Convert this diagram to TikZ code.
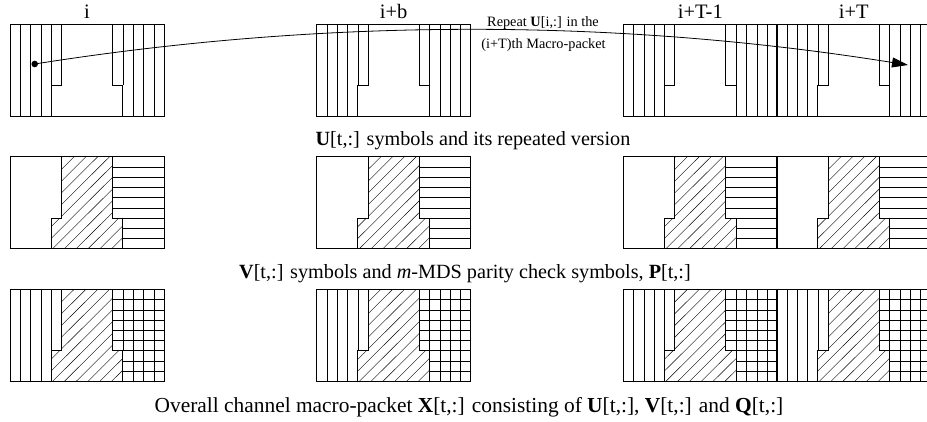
\documentclass[tikz,border=0pt]{standalone}
\usepackage{fontspec}
\setmainfont{Liberation Serif}
\usetikzlibrary{arrows.meta}
\tikzset{
  gridline/.style={line width=0.45pt},
  outline/.style={line width=0.7pt},
  bound/.style={line width=1pt},
  hatchline/.style={line width=0.4pt},
  labtxt/.style={font=\fontsize{20.5}{24}\selectfont, anchor=base, inner sep=0pt},
  captxt/.style={font=\fontsize{20.2}{24}\selectfont, anchor=base, inner sep=0pt},
  bigcaptxt/.style={font=\fontsize{21.4}{25}\selectfont, anchor=base, inner sep=0pt},
  smalltxt/.style={font=\fontsize{14.3}{17}\selectfont, anchor=base, inner sep=0pt},
  srcdot/.style={circle, fill=black, inner sep=0pt, minimum size=6.6pt},
}
\newcommand\ulines{%
  \foreach \c in {1,2,3} \draw[gridline] (\c,0) -- (\c,9);
  \draw[gridline] (4,0) -- (4,6);}
\newcommand\urlines{%
  \draw[gridline] (11,0) -- (11,6);
  \foreach \c in {12,13,14} \draw[gridline] (\c,0) -- (\c,9);}
\newcommand\plines{%
  \foreach \r in {1,...,6} \draw[gridline] (10,\r) -- (15,\r);
  \foreach \r in {7,8} \draw[gridline] (11,\r) -- (15,\r);}
\newcommand\hatchmid{%
  \begin{scope}
    \clip (5,0) -- (10,0) -- (10,6) -- (11,6) -- (11,9) -- (4,9) -- (4,6) -- (5,6) -- cycle;
    \foreach \a in {-6.2,-5.05,...,11.5} \draw[hatchline] (\a,9) -- (\a+9,0);
  \end{scope}}
\newcommand\bounds{%
  \draw[bound] (5,0) -- (5,6) -- (4,6) -- (4,9);
  \draw[bound] (10,0) -- (10,6) -- (11,6) -- (11,9);
  \draw[outline] (0,0) rectangle (15,9);}
\newcommand\urow[2]{%
  \begin{scope}[shift={(#1,#2)}, x=10.267pt, y=-10.222pt]
    \ulines \urlines \bounds
  \end{scope}}
\newcommand\vrow[2]{%
  \begin{scope}[shift={(#1,#2)}, x=10.267pt, y=-10.222pt]
    \hatchmid \plines \bounds
  \end{scope}}
\newcommand\xrow[2]{%
  \begin{scope}[shift={(#1,#2)}, x=10.267pt, y=-10.222pt]
    \ulines \hatchmid \plines \urlines \bounds
  \end{scope}}
\begin{document}
\begin{tikzpicture}[x=1pt, y=-1pt]
\useasboundingbox (0,0) rectangle (927,421);
\clip (0,0) rectangle (927,421);
% row 1
\foreach \px in {10,316.7,623.3,776.7} \urow{\px}{24};
% row 2
\foreach \px in {10,316.7,623.3,776.7} \vrow{\px}{156.7};
% row 3
\foreach \px in {10,316.7,623.3,776.7} \xrow{\px}{289.3};
% packet labels
\node[labtxt] (li) at (87,18.3) {i};
\node[labtxt] (lb) at (393.7,18.3) {i+b};
\node[labtxt] (lt1) at (700.3,18.3) {i+T-1};
\node[labtxt] (lt) at (853.7,18.3) {i+T};
% arrow
\node[srcdot] (s) at (34.7,64) {};
\coordinate (dst) at (908,65);
\draw[line width=0.8pt, -{Triangle[length=16pt,width=10pt]}] (s.center) .. controls (325,18) and (615,18) .. (dst);
\node[smalltxt] (r1) at (543,26.7) {Repeat \textbf{U}[i,:] in the};
\node[smalltxt] (r2) at (543.5,48.3) {(i+T)th Macro-packet};
% captions
\node[captxt] (c1) at (473,145) {\textbf{U}[t,:] symbols and its repeated version};
\node[captxt] (c2) at (465,278) {\textbf{V}[t,:] symbols and \textit{m}-MDS parity check symbols, \textbf{P}[t,:]};
\node[bigcaptxt] (c3) at (469,412) {Overall channel macro-packet \textbf{X}[t,:] consisting of \textbf{U}[t,:], \textbf{V}[t,:] and \textbf{Q}[t,:]};
\end{tikzpicture}
\end{document}
